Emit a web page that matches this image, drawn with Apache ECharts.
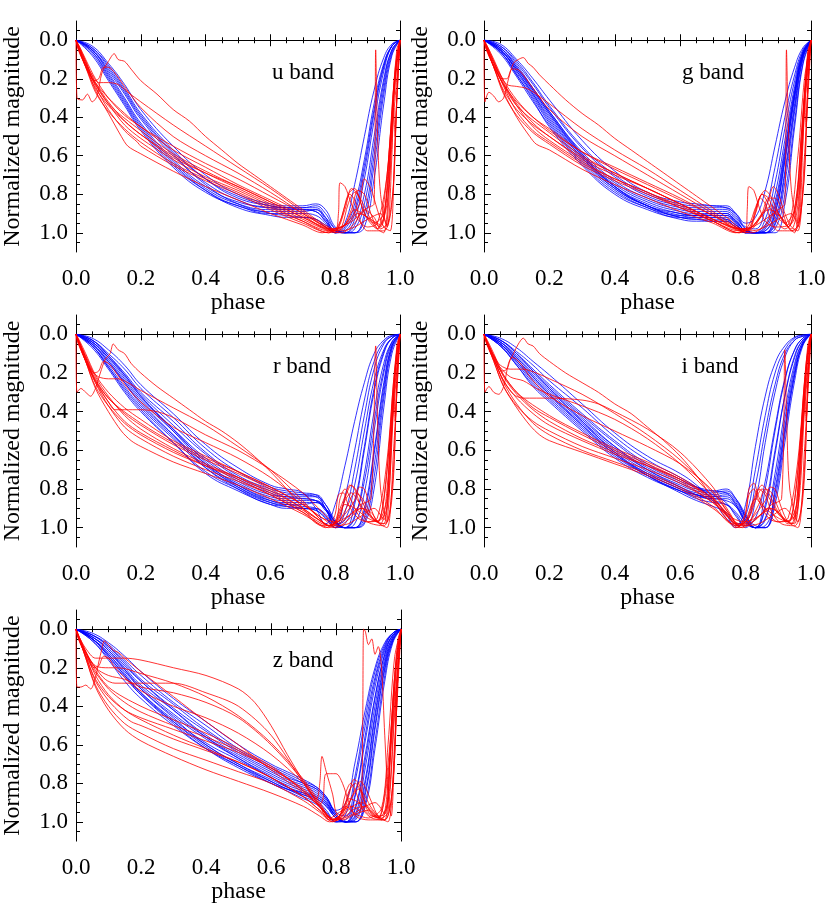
<!DOCTYPE html>
<html>
<head>
  <meta charset="utf-8" />
  <title>Normalized light curves</title>
  <script src="https://cdn.jsdelivr.net/npm/echarts@6/dist/echarts.min.js"></script>
  <style>
    html, body { margin: 0; padding: 0; background: #fff; }
    #main { width: 830px; height: 905px; }
  </style>
</head>
<body>
<div id="main"></div>
<script>
  // phase samples shared by the blue curves
  const phaseGrid = [0,.05,.1,.15,.2,.3,.4,.5,.6,.65,.7,.74,.77,.8,.83,.86,.89,.92,.95,.975,1]

  const xTicks = [0, .2, .4, .6, .8, 1]
  const yMajorTicks = [0, .2, .4, .6, .8, 1]
  const yMinorTicks = [-.05,.05,.1,.15,.25,.3,.35,.45,.5,.55,.65,.7,.75,.85,.9,.95,1.05]

  // ---- u band
  const uBlue = [
    [0,.03,.12,.23,.36,.55,.70,.80,.85,.86,.86,.85,.88,.97,1,.93,.72,.42,.16,.03,0],
    [0,.04,.14,.26,.39,.58,.72,.81,.86,.87,.87,.86,.9,.98,1,.96,.8,.5,.2,.05,0],
    [0,.05,.16,.28,.41,.60,.74,.83,.87,.87,.87,.87,.92,1,.95,.75,.5,.26,.09,.02,0],
    [0,.05,.17,.30,.43,.62,.76,.84,.87,.88,.88,.88,.93,.99,1,1,.9,.6,.25,.06,0],
    [0,.06,.18,.31,.44,.63,.77,.85,.88,.88,.88,.89,.94,.99,1,1,.97,.72,.33,.08,0],
    [0,.07,.20,.33,.46,.65,.78,.86,.89,.89,.89,.88,.92,.98,1,.98,.85,.55,.22,.05,0],
    [0,.08,.21,.34,.47,.66,.79,.86,.90,.90,.90,.91,.95,1,.97,.85,.62,.33,.12,.03,0],
    [0,.04,.13,.25,.38,.57,.72,.82,.86,.87,.88,.89,.94,1,.99,.9,.68,.38,.14,.03,0],
    [0,.06,.19,.32,.45,.64,.78,.87,.91,.92,.92,.93,.96,.99,1,1,.93,.65,.28,.07,0],
    [0,.05,.15,.27,.40,.59,.75,.85,.90,.91,.92,.93,.97,1,.98,.88,.65,.36,.13,.03,0]
  ]
  const uRed = [
    [[0,0],[.003,.3],[.02,.31],[.035,.28],[.05,.32],[.065,.29],[.08,.17],[.1,.11],[.118,.07],[.13,.1],[.15,.11],[.17,.15],[.2,.21],[.25,.28],[.3,.36],[.35,.42],[.4,.5],[.45,.57],[.5,.64],[.55,.7],[.6,.76],[.65,.82],[.7,.88],[.75,.94],[.8,.98],[.83,.96],[.86,.88],[.9,.92],[.94,.96],[.97,.5],[.99,.08],[1,0]],
    [[0,0],[.01,.04],[.03,.12],[.05,.18],[.07,.22],[.1,.22],[.13,.23],[.16,.27],[.2,.32],[.3,.44],[.4,.55],[.5,.66],[.6,.77],[.7,.89],[.77,.97],[.8,1],[.82,.97],[.84,.85],[.86,.79],[.88,.83],[.91,.93],[.94,.97],[.96,.8],[.98,.3],[1,0]],
    [[0,0],[.015,.05],[.035,.13],[.055,.21],[.07,.2],[.085,.14],[.1,.14],[.12,.17],[.15,.24],[.2,.35],[.3,.5],[.4,.6],[.5,.69],[.6,.79],[.7,.9],[.77,.97],[.8,.99],[.82,.92],[.84,.8],[.86,.77],[.88,.85],[.9,.93],[.93,.98],[.96,.85],[.98,.4],[1,0]],
    [[0,0],[.01,.05],[.03,.13],[.06,.22],[.1,.3],[.15,.38],[.2,.45],[.3,.55],[.4,.64],[.5,.72],[.6,.81],[.7,.9],[.76,.96],[.8,.99],[.81,.9],[.815,.74],[.83,.76],[.85,.85],[.87,.93],[.9,.97],[.93,.95],[.96,.7],[.98,.25],[1,0]],
    [[0,0],[.01,.05],[.03,.14],[.06,.25],[.1,.34],[.15,.42],[.2,.49],[.3,.61],[.4,.69],[.5,.76],[.6,.84],[.7,.92],[.77,.98],[.8,.99],[.83,.88],[.85,.77],[.87,.8],[.89,.9],[.92,.95],[.95,.9],[.97,.55],[.99,.1],[1,0]],
    [[0,0],[.01,.05],[.03,.14],[.06,.27],[.1,.37],[.15,.46],[.2,.53],[.3,.64],[.4,.72],[.5,.79],[.6,.87],[.7,.94],[.78,.99],[.82,.98],[.85,.88],[.87,.78],[.89,.8],[.91,.9],[.93,.98],[.95,1],[.97,.6],[.99,.1],[1,0]],
    [[0,0],[.01,.05],[.03,.13],[.06,.26],[.1,.38],[.14,.5],[.16,.55],[.2,.59],[.3,.68],[.4,.76],[.5,.83],[.6,.9],[.7,.96],[.76,1],[.8,.98],[.84,.95],[.87,.9],[.9,.92],[.93,.98],[.96,.7],[.985,.15],[1,0]],
    [[0,0],[.01,.04],[.03,.12],[.06,.24],[.1,.36],[.15,.47],[.19,.53],[.2,.55],[.3,.65],[.4,.73],[.5,.8],[.6,.88],[.7,.95],[.78,1],[.82,.97],[.85,.92],[.875,.85],[.89,.72],[.91,.77],[.93,.88],[.95,.97],[.97,.99],[.985,.5],[1,0]],
    [[0,0],[.01,.04],[.03,.11],[.06,.22],[.1,.32],[.15,.42],[.2,.49],[.3,.6],[.4,.69],[.5,.77],[.6,.85],[.7,.93],[.78,.99],[.82,1],[.86,.95],[.89,.88],[.92,.92],[.94,.98],[.96,.95],[.975,.4],[.99,.05],[1,0]],
    [[0,0],[.01,.03],[.03,.1],[.06,.2],[.1,.3],[.15,.39],[.2,.45],[.3,.57],[.4,.66],[.5,.75],[.6,.83],[.7,.91],[.78,.98],[.82,.97],[.86,.93],[.9,.87],[.92,.85],[.925,.05],[.93,.45],[.94,.8],[.96,.96],[.98,.75],[.99,.3],[1,0]],
    [[0,0],[.005,.04],[.02,.1],[.05,.2],[.1,.33],[.15,.44],[.2,.51],[.3,.62],[.4,.71],[.5,.78],[.6,.86],[.7,.94],[.78,1],[.81,.96],[.83,.86],[.845,.8],[.86,.83],[.88,.95],[.9,.99],[.95,.99],[.975,.85],[.99,.3],[1,0]],
    [[0,0],[.01,.06],[.04,.17],[.1,.33],[.2,.47],[.3,.59],[.4,.68],[.5,.76],[.6,.84],[.7,.92],[.78,.98],[.82,.99],[.86,.97],[.9,.93],[.94,.9],[.96,.97],[.975,.6],[.98,.35],[.985,.5],[.99,.3],[.995,.1],[1,0]]
  ]

  // ---- g band
  const gBlue = [
    [0,.02,.10,.20,.31,.52,.68,.79,.84,.85,.86,.87,.9,.95,.92,.78,.55,.32,.14,.04,0],
    [0,.03,.11,.22,.34,.55,.7,.8,.85,.86,.86,.86,.9,.97,.98,.88,.66,.4,.18,.05,0],
    [0,.03,.12,.23,.35,.56,.71,.81,.86,.87,.87,.87,.91,.98,1,.93,.74,.46,.21,.06,0],
    [0,.04,.13,.25,.37,.58,.73,.82,.87,.88,.88,.88,.92,.98,1,.96,.8,.52,.24,.06,0],
    [0,.04,.14,.26,.38,.59,.74,.83,.88,.89,.89,.89,.93,.99,1,.98,.86,.58,.27,.07,0],
    [0,.05,.15,.27,.39,.6,.75,.84,.89,.9,.9,.9,.94,.99,1,1,.9,.63,.3,.08,0],
    [0,.05,.16,.28,.41,.61,.76,.85,.9,.91,.9,.9,.94,.99,1,1,.93,.68,.33,.09,0],
    [0,.06,.17,.29,.42,.62,.77,.86,.91,.91,.91,.91,.95,1,1,1,.96,.74,.37,.1,0],
    [0,.06,.18,.3,.43,.63,.78,.87,.92,.92,.92,.92,.95,1,1,1,.98,.8,.42,.12,0],
    [0,.07,.19,.32,.44,.64,.79,.87,.92,.93,.93,.93,.96,.99,1,1,1,.85,.45,.13,0],
    [0,.05,.15,.26,.38,.6,.76,.86,.91,.92,.92,.93,.96,1,1,.97,.84,.56,.26,.07,0],
    [0,.04,.14,.25,.37,.59,.76,.86,.92,.93,.94,.94,.97,1,1,.99,.9,.62,.29,.08,0],
    [0,.06,.18,.31,.45,.65,.8,.88,.93,.94,.94,.94,.97,1,1,1,.95,.7,.35,.09,0],
    [0,.05,.16,.28,.4,.61,.77,.86,.9,.91,.91,.91,.94,.99,1,.99,.88,.6,.28,.07,0]
  ]
  const gRed = [
    [[0,0],[.003,.32],[.015,.27],[.03,.29],[.045,.32],[.06,.3],[.075,.2],[.09,.12],[.105,.1],[.12,.09],[.135,.12],[.15,.14],[.17,.18],[.2,.23],[.25,.31],[.3,.38],[.35,.44],[.4,.51],[.45,.57],[.5,.63],[.55,.69],[.6,.75],[.65,.81],[.7,.87],[.75,.93],[.79,.98],[.82,.97],[.85,.9],[.88,.86],[.9,.9],[.93,.97],[.96,.8],[.98,.3],[1,0]],
    [[0,0],[.01,.04],[.03,.12],[.05,.18],[.07,.23],[.1,.24],[.13,.25],[.16,.28],[.2,.33],[.3,.46],[.4,.57],[.5,.67],[.6,.78],[.7,.89],[.77,.97],[.8,1],[.82,.96],[.84,.83],[.86,.78],[.88,.82],[.91,.93],[.94,.98],[.96,.85],[.98,.35],[1,0]],
    [[0,0],[.015,.05],[.035,.13],[.055,.2],[.07,.2],[.085,.15],[.1,.15],[.12,.18],[.15,.25],[.2,.36],[.3,.5],[.4,.6],[.5,.7],[.6,.8],[.7,.9],[.78,.98],[.81,.98],[.83,.88],[.85,.8],[.87,.85],[.89,.93],[.92,.98],[.95,.92],[.97,.5],[.99,.08],[1,0]],
    [[0,0],[.01,.05],[.03,.13],[.06,.23],[.1,.32],[.15,.4],[.2,.47],[.3,.58],[.4,.66],[.5,.74],[.6,.82],[.7,.91],[.77,.97],[.8,.99],[.805,.88],[.81,.76],[.825,.78],[.84,.86],[.86,.94],[.89,.97],[.93,.96],[.96,.6],[.98,.2],[1,0]],
    [[0,0],[.01,.05],[.03,.14],[.06,.26],[.1,.36],[.15,.44],[.2,.5],[.3,.62],[.4,.7],[.5,.77],[.6,.85],[.7,.93],[.77,.98],[.8,.99],[.83,.9],[.85,.8],[.87,.82],[.89,.9],[.92,.95],[.95,.88],[.97,.5],[.99,.08],[1,0]],
    [[0,0],[.01,.05],[.03,.14],[.06,.28],[.1,.39],[.15,.48],[.2,.54],[.3,.65],[.4,.73],[.5,.8],[.6,.87],[.7,.94],[.78,.99],[.82,.98],[.85,.9],[.87,.82],[.89,.82],[.91,.88],[.93,.97],[.95,1],[.97,.65],[.99,.12],[1,0]],
    [[0,0],[.01,.05],[.03,.14],[.06,.27],[.1,.4],[.14,.5],[.16,.54],[.2,.57],[.3,.67],[.4,.75],[.5,.82],[.6,.89],[.7,.95],[.77,1],[.81,.98],[.84,.93],[.87,.88],[.9,.9],[.93,.97],[.96,.75],[.985,.2],[1,0]],
    [[0,0],[.01,.04],[.03,.12],[.06,.24],[.1,.37],[.15,.47],[.2,.53],[.3,.64],[.4,.72],[.5,.79],[.6,.87],[.7,.94],[.78,1],[.82,.97],[.85,.91],[.87,.83],[.885,.76],[.9,.8],[.92,.9],[.94,.97],[.96,.99],[.98,.6],[1,0]],
    [[0,0],[.01,.04],[.03,.11],[.06,.22],[.1,.33],[.15,.43],[.2,.5],[.3,.61],[.4,.69],[.5,.77],[.6,.85],[.7,.93],[.78,.99],[.82,1],[.86,.96],[.89,.9],[.92,.94],[.94,.99],[.96,.96],[.975,.45],[.99,.06],[1,0]],
    [[0,0],[.01,.03],[.03,.1],[.06,.21],[.1,.31],[.15,.4],[.2,.46],[.3,.58],[.4,.67],[.5,.75],[.6,.83],[.7,.91],[.78,.98],[.82,.97],[.86,.93],[.9,.88],[.92,.85],[.925,.05],[.93,.4],[.94,.78],[.96,.95],[.98,.7],[.99,.25],[1,0]],
    [[0,0],[.005,.04],[.02,.1],[.05,.2],[.1,.34],[.15,.45],[.2,.52],[.3,.63],[.4,.72],[.5,.79],[.6,.86],[.7,.94],[.78,1],[.81,.96],[.83,.87],[.845,.82],[.86,.85],[.88,.95],[.9,.99],[.95,.99],[.975,.8],[.99,.25],[1,0]],
    [[0,0],[.01,.06],[.04,.17],[.1,.34],[.2,.48],[.3,.6],[.4,.69],[.5,.77],[.6,.85],[.7,.93],[.78,.98],[.82,.99],[.86,.97],[.9,.93],[.94,.9],[.96,.97],[.975,.55],[.98,.3],[.985,.45],[.99,.25],[.995,.08],[1,0]]
  ]

  // ---- r band
  const rBlue = [
    [0,.02,.08,.16,.26,.41,.57,.69,.78,.8,.82,.9,.98,.88,.68,.45,.25,.1,.03,.005,0],
    [0,.03,.1,.18,.28,.43,.59,.71,.79,.81,.82,.83,.9,1,.84,.6,.34,.14,.04,.01,0],
    [0,.03,.11,.2,.3,.45,.61,.73,.8,.82,.83,.84,.9,.98,.96,.78,.5,.24,.08,.02,0],
    [0,.04,.12,.21,.31,.47,.62,.74,.81,.83,.83,.83,.88,.97,1,.88,.6,.3,.1,.02,0],
    [0,.04,.13,.23,.33,.49,.64,.75,.82,.84,.84,.84,.88,.96,1,.95,.72,.4,.15,.04,0],
    [0,.05,.14,.24,.34,.5,.65,.76,.83,.84,.85,.86,.9,.97,1,.98,.82,.5,.2,.05,0],
    [0,.05,.15,.25,.36,.52,.67,.77,.84,.85,.85,.86,.91,.97,1,1,.9,.6,.25,.06,0],
    [0,.06,.16,.27,.37,.53,.68,.78,.85,.86,.86,.86,.9,.97,1,1,.95,.68,.3,.07,0],
    [0,.06,.17,.28,.38,.54,.69,.79,.86,.87,.87,.87,.9,.97,1,1,.97,.74,.33,.08,0],
    [0,.07,.18,.3,.4,.56,.71,.8,.87,.88,.88,.87,.91,.98,1,1,.98,.8,.38,.1,0],
    [0,.04,.12,.22,.32,.49,.66,.78,.86,.88,.89,.9,.94,1,.92,.7,.42,.18,.05,.01,0],
    [0,.05,.14,.25,.35,.52,.69,.8,.88,.89,.9,.91,.95,1,.98,.86,.58,.28,.09,.02,0],
    [0,.03,.11,.21,.32,.5,.67,.79,.87,.89,.9,.91,.95,.99,1,.94,.76,.45,.18,.04,0],
    [0,.06,.17,.29,.39,.56,.72,.81,.88,.9,.9,.9,.93,.98,1,1,.92,.62,.27,.06,0]
  ]
  const rRed = [
    [[0,0],[.003,.3],[.015,.28],[.03,.3],[.045,.32],[.06,.28],[.075,.2],[.09,.13],[.105,.1],[.115,.05],[.13,.08],[.15,.1],[.17,.15],[.2,.2],[.25,.27],[.3,.33],[.35,.39],[.4,.45],[.45,.5],[.5,.56],[.55,.63],[.6,.71],[.65,.8],[.7,.9],[.74,.97],[.77,1],[.8,.97],[.83,.88],[.86,.9],[.9,.95],[.93,.97],[.96,.7],[.98,.25],[1,0]],
    [[0,0],[.01,.04],[.03,.12],[.05,.19],[.07,.22],[.1,.23],[.13,.23],[.16,.25],[.2,.29],[.3,.38],[.4,.47],[.5,.58],[.6,.7],[.7,.86],[.75,.95],[.78,.99],[.81,.96],[.83,.85],[.85,.78],[.87,.82],[.9,.92],[.93,.97],[.96,.85],[.98,.35],[1,0]],
    [[0,0],[.015,.06],[.035,.14],[.055,.2],[.07,.19],[.085,.14],[.1,.15],[.12,.19],[.15,.26],[.2,.35],[.3,.48],[.4,.56],[.5,.64],[.6,.74],[.7,.87],[.75,.95],[.78,.99],[.81,.95],[.83,.86],[.85,.82],[.87,.86],[.9,.93],[.93,.97],[.96,.9],[.98,.4],[1,0]],
    [[0,0],[.01,.05],[.03,.14],[.06,.25],[.1,.35],[.12,.39],[.15,.39],[.2,.39],[.25,.4],[.3,.43],[.4,.52],[.5,.6],[.6,.7],[.7,.82],[.76,.92],[.8,.98],[.815,.85],[.83,.8],[.85,.86],[.87,.93],[.9,.97],[.94,.95],[.97,.5],[.99,.08],[1,0]],
    [[0,0],[.01,.05],[.03,.13],[.06,.24],[.1,.33],[.15,.41],[.2,.47],[.3,.57],[.4,.65],[.5,.72],[.6,.8],[.7,.9],[.75,.96],[.78,.99],[.8,.93],[.81,.83],[.825,.82],[.84,.88],[.87,.95],[.9,.97],[.93,.95],[.96,.65],[.985,.15],[1,0]],
    [[0,0],[.01,.05],[.03,.14],[.06,.27],[.1,.37],[.15,.46],[.2,.52],[.3,.61],[.4,.68],[.5,.74],[.6,.81],[.7,.9],[.75,.96],[.78,.99],[.81,.97],[.84,.88],[.86,.82],[.88,.84],[.9,.9],[.92,.96],[.95,.98],[.97,.6],[.99,.1],[1,0]],
    [[0,0],[.01,.05],[.03,.14],[.06,.28],[.1,.4],[.14,.5],[.17,.55],[.2,.58],[.3,.66],[.4,.72],[.5,.78],[.6,.85],[.7,.93],[.75,.98],[.78,1],[.82,.97],[.85,.93],[.88,.9],[.91,.94],[.94,.98],[.96,.8],[.985,.2],[1,0]],
    [[0,0],[.01,.04],[.03,.12],[.06,.25],[.1,.37],[.15,.48],[.2,.54],[.3,.63],[.4,.7],[.5,.76],[.6,.83],[.7,.92],[.76,.99],[.8,.98],[.83,.93],[.86,.86],[.875,.79],[.89,.8],[.91,.9],[.93,.97],[.96,1],[.98,.6],[1,0]],
    [[0,0],[.01,.04],[.03,.11],[.06,.22],[.1,.32],[.15,.42],[.2,.49],[.3,.59],[.4,.67],[.5,.74],[.6,.82],[.7,.91],[.76,.97],[.8,1],[.84,.96],[.88,.9],[.91,.92],[.94,.98],[.96,.97],[.975,.5],[.99,.06],[1,0]],
    [[0,0],[.01,.03],[.03,.1],[.06,.21],[.1,.3],[.15,.38],[.2,.44],[.3,.55],[.4,.63],[.5,.71],[.6,.79],[.7,.88],[.76,.95],[.8,.97],[.84,.94],[.88,.88],[.91,.85],[.925,.06],[.93,.4],[.94,.8],[.96,.97],[.98,.7],[.99,.25],[1,0]],
    [[0,0],[.005,.04],[.02,.1],[.05,.21],[.1,.35],[.15,.45],[.2,.51],[.3,.6],[.4,.68],[.5,.75],[.6,.83],[.7,.92],[.76,.98],[.79,.99],[.81,.92],[.83,.84],[.845,.78],[.86,.8],[.88,.9],[.9,.97],[.95,.99],[.975,.85],[.99,.3],[1,0]],
    [[0,0],[.01,.06],[.04,.17],[.1,.33],[.2,.46],[.3,.56],[.4,.64],[.5,.71],[.6,.79],[.7,.88],[.76,.95],[.8,.99],[.84,.98],[.88,.94],[.92,.9],[.95,.96],[.97,.55],[.98,.3],[.985,.45],[.99,.25],[.995,.08],[1,0]]
  ]

  // ---- i band
  const iBlue = [
    [0,.02,.07,.14,.21,.36,.51,.63,.72,.78,.86,.95,.99,.88,.58,.32,.15,.06,.015,.003,0],
    [0,.03,.09,.16,.24,.38,.53,.65,.74,.79,.85,.93,1,.94,.7,.42,.2,.08,.02,.005,0],
    [0,.03,.1,.18,.26,.41,.55,.67,.75,.79,.83,.87,.94,1,.86,.56,.3,.12,.03,.01,0],
    [0,.04,.11,.19,.27,.42,.56,.68,.76,.79,.81,.82,.88,.97,1,.8,.5,.24,.08,.02,0],
    [0,.04,.12,.21,.29,.44,.58,.69,.77,.8,.81,.8,.85,.94,1,.9,.62,.32,.11,.03,0],
    [0,.05,.13,.22,.3,.45,.59,.7,.78,.81,.82,.81,.85,.93,1,.96,.72,.4,.15,.04,0],
    [0,.05,.14,.23,.31,.46,.6,.71,.79,.82,.83,.82,.86,.94,.99,1,.8,.48,.19,.05,0],
    [0,.06,.15,.25,.33,.48,.62,.72,.8,.83,.84,.83,.87,.95,1,1,.85,.52,.21,.05,0],
    [0,.06,.16,.26,.34,.49,.63,.73,.81,.83,.84,.84,.88,.96,1,1,.88,.56,.24,.06,0],
    [0,.04,.12,.2,.28,.43,.58,.7,.79,.83,.86,.88,.93,.99,.95,.76,.48,.23,.08,.02,0],
    [0,.05,.13,.22,.31,.47,.62,.73,.81,.85,.87,.88,.92,.98,1,.88,.6,.32,.12,.03,0],
    [0,.03,.1,.19,.28,.45,.61,.73,.82,.86,.89,.92,.98,.97,.78,.5,.26,.1,.03,.01,0],
    [0,.06,.16,.27,.35,.5,.64,.74,.81,.84,.85,.86,.89,.96,1,.99,.82,.5,.21,.05,0],
    [0,.05,.14,.24,.32,.47,.61,.72,.8,.83,.85,.85,.89,.97,1,.95,.76,.44,.17,.04,0]
  ]
  const iRed = [
    [[0,0],[.003,.3],[.015,.27],[.03,.3],[.045,.31],[.06,.27],[.075,.15],[.09,.1],[.105,.05],[.12,.02],[.135,.05],[.15,.06],[.17,.1],[.2,.14],[.25,.2],[.3,.25],[.35,.3],[.4,.36],[.45,.41],[.5,.48],[.55,.55],[.6,.63],[.65,.73],[.7,.85],[.74,.95],[.77,1],[.8,.96],[.83,.85],[.86,.9],[.9,.95],[.93,.97],[.96,.7],[.98,.25],[1,0]],
    [[0,0],[.01,.04],[.03,.11],[.05,.16],[.08,.18],[.12,.18],[.16,.2],[.2,.23],[.3,.31],[.4,.41],[.5,.52],[.6,.65],[.7,.82],[.75,.93],[.78,.99],[.81,.95],[.83,.84],[.85,.78],[.87,.82],[.9,.92],[.93,.97],[.96,.85],[.98,.35],[1,0]],
    [[0,0],[.01,.05],[.03,.13],[.06,.24],[.09,.31],[.12,.33],[.2,.33],[.3,.34],[.35,.36],[.4,.4],[.5,.49],[.6,.61],[.7,.79],[.75,.92],[.78,.99],[.8,.92],[.81,.8],[.825,.77],[.84,.84],[.87,.93],[.9,.97],[.94,.95],[.97,.5],[.99,.08],[1,0]],
    [[0,0],[.015,.06],[.035,.13],[.055,.19],[.07,.18],[.085,.12],[.1,.13],[.12,.17],[.15,.24],[.2,.32],[.3,.42],[.4,.5],[.5,.58],[.6,.67],[.7,.81],[.75,.93],[.78,.99],[.81,.95],[.83,.86],[.85,.8],[.87,.84],[.9,.93],[.93,.97],[.96,.9],[.98,.4],[1,0]],
    [[0,0],[.01,.05],[.03,.13],[.06,.24],[.1,.33],[.15,.41],[.2,.47],[.3,.55],[.4,.62],[.5,.68],[.6,.75],[.7,.86],[.75,.95],[.78,.99],[.8,.93],[.81,.83],[.825,.8],[.84,.86],[.87,.95],[.9,.97],[.93,.95],[.96,.65],[.985,.15],[1,0]],
    [[0,0],[.01,.05],[.03,.14],[.06,.27],[.1,.38],[.14,.47],[.17,.52],[.2,.55],[.3,.61],[.4,.67],[.5,.73],[.6,.8],[.7,.9],[.75,.97],[.78,1],[.82,.97],[.85,.93],[.88,.9],[.91,.94],[.94,.98],[.96,.8],[.985,.2],[1,0]],
    [[0,0],[.01,.05],[.03,.14],[.06,.27],[.1,.37],[.15,.45],[.2,.5],[.3,.58],[.4,.64],[.5,.7],[.6,.77],[.7,.87],[.75,.95],[.78,.99],[.81,.97],[.84,.88],[.86,.8],[.88,.82],[.9,.9],[.92,.96],[.95,.98],[.97,.6],[.99,.1],[1,0]],
    [[0,0],[.01,.04],[.03,.12],[.06,.25],[.1,.36],[.15,.46],[.2,.52],[.3,.6],[.4,.66],[.5,.72],[.6,.79],[.7,.89],[.76,.98],[.8,.98],[.83,.93],[.86,.86],[.875,.79],[.89,.8],[.91,.9],[.93,.97],[.96,1],[.98,.6],[1,0]],
    [[0,0],[.01,.04],[.03,.11],[.06,.22],[.1,.31],[.15,.39],[.2,.45],[.3,.54],[.4,.61],[.5,.68],[.6,.76],[.7,.87],[.76,.97],[.79,1],[.83,.96],[.87,.9],[.9,.92],[.93,.98],[.95,.97],[.97,.5],[.99,.06],[1,0]],
    [[0,0],[.01,.03],[.03,.1],[.06,.21],[.1,.3],[.15,.38],[.2,.43],[.3,.52],[.4,.6],[.5,.67],[.6,.75],[.7,.85],[.76,.95],[.8,.97],[.84,.94],[.88,.88],[.91,.85],[.92,.08],[.925,.4],[.935,.8],[.96,.97],[.98,.7],[.99,.25],[1,0]],
    [[0,0],[.01,.06],[.04,.16],[.1,.3],[.2,.42],[.3,.51],[.4,.59],[.5,.66],[.6,.74],[.7,.85],[.76,.96],[.8,.99],[.84,.98],[.88,.94],[.92,.9],[.95,.96],[.97,.55],[.98,.3],[.985,.45],[.99,.25],[.995,.08],[1,0]],
    [[0,0],[.01,.05],[.04,.15],[.08,.22],[.12,.24],[.16,.28],[.2,.31],[.3,.37],[.4,.44],[.5,.54],[.6,.67],[.7,.84],[.75,.95],[.77,.99],[.8,.97],[.82,.88],[.84,.8],[.86,.83],[.88,.92],[.91,.98],[.95,.99],[.975,.85],[.99,.3],[1,0]]
  ]

  // ---- z band
  const zBlue = [
    [0,.02,.07,.14,.22,.36,.48,.6,.7,.74,.78,.82,.87,.94,.9,.68,.42,.2,.07,.02,0],
    [0,.03,.08,.16,.24,.38,.5,.62,.71,.75,.79,.82,.87,.95,.97,.78,.5,.25,.09,.02,0],
    [0,.03,.09,.17,.26,.39,.52,.63,.72,.76,.8,.83,.88,.96,1,.86,.58,.3,.11,.03,0],
    [0,.04,.1,.19,.27,.41,.53,.64,.73,.77,.8,.83,.88,.96,1,.92,.65,.35,.13,.03,0],
    [0,.04,.11,.2,.29,.42,.55,.65,.74,.78,.81,.84,.89,.97,1,.96,.72,.4,.15,.04,0],
    [0,.05,.12,.21,.3,.44,.56,.66,.75,.79,.82,.85,.9,.97,1,.99,.8,.46,.18,.05,0],
    [0,.05,.13,.22,.31,.45,.57,.67,.76,.8,.83,.86,.9,.97,1,1,.86,.52,.21,.06,0],
    [0,.05,.14,.24,.33,.47,.59,.68,.77,.81,.84,.87,.91,.98,1,1,.9,.58,.24,.06,0],
    [0,.06,.15,.25,.34,.48,.6,.7,.78,.82,.85,.88,.92,.98,1,1,.92,.62,.27,.07,0],
    [0,.06,.16,.27,.36,.5,.62,.71,.79,.83,.86,.88,.92,.98,1,.98,.84,.5,.2,.05,0],
    [0,.03,.09,.18,.27,.42,.56,.67,.77,.82,.86,.89,.94,1,.96,.75,.46,.22,.08,.02,0],
    [0,.04,.11,.21,.31,.46,.6,.7,.79,.83,.87,.9,.95,1,.99,.85,.55,.27,.1,.02,0],
    [0,.05,.13,.23,.33,.48,.61,.71,.8,.84,.88,.91,.96,1,1,.93,.68,.36,.13,.03,0],
    [0,.05,.14,.24,.34,.49,.62,.72,.8,.83,.85,.87,.91,.97,1,.97,.78,.44,.17,.04,0]
  ]
  const zRed = [
    [[0,0],[.003,.3],[.015,.3],[.03,.29],[.045,.31],[.06,.25],[.07,.17],[.08,.1],[.087,.06],[.1,.08],[.115,.11],[.13,.12],[.15,.15],[.2,.22],[.3,.35],[.4,.48],[.5,.6],[.6,.73],[.7,.85],[.75,.92],[.78,.98],[.8,.99],[.83,.92],[.86,.96],[.9,.98],[.94,.93],[.96,.6],[.98,.15],[1,0]],
    [[0,0],[.01,.04],[.03,.1],[.06,.15],[.1,.15],[.15,.15],[.2,.16],[.3,.2],[.4,.24],[.5,.31],[.55,.38],[.6,.5],[.65,.65],[.7,.79],[.75,.92],[.78,.99],[.81,.97],[.84,.88],[.87,.9],[.9,.96],[.93,.98],[.96,.75],[.98,.25],[1,0]],
    [[0,0],[.01,.05],[.03,.12],[.06,.2],[.09,.26],[.12,.28],[.2,.28],[.3,.28],[.4,.33],[.5,.4],[.6,.55],[.7,.8],[.75,.92],[.79,.99],[.81,.98],[.83,.85],[.845,.8],[.86,.84],[.88,.93],[.91,.98],[.95,.99],[.975,.8],[.99,.25],[1,0]],
    [[0,0],[.01,.05],[.03,.12],[.06,.19],[.1,.2],[.13,.2],[.2,.23],[.3,.28],[.4,.35],[.5,.45],[.6,.59],[.7,.78],[.75,.9],[.79,.99],[.82,.95],[.84,.84],[.86,.8],[.88,.86],[.9,.95],[.93,.98],[.96,.9],[.98,.4],[1,0]],
    [[0,0],[.015,.06],[.035,.13],[.055,.2],[.07,.19],[.085,.14],[.1,.15],[.12,.2],[.15,.25],[.2,.32],[.3,.4],[.4,.46],[.5,.54],[.6,.65],[.7,.8],[.74,.88],[.75,.8],[.757,.66],[.77,.74],[.79,.86],[.8,.95],[.82,.99],[.86,.96],[.9,.94],[.93,.98],[.96,.7],[.985,.15],[1,0]],
    [[0,0],[.01,.05],[.03,.14],[.06,.26],[.1,.35],[.15,.42],[.2,.46],[.3,.52],[.4,.58],[.5,.64],[.6,.72],[.7,.84],[.75,.92],[.79,.99],[.82,.97],[.85,.87],[.87,.83],[.89,.87],[.91,.93],[.94,.98],[.96,.95],[.98,.45],[1,0]],
    [[0,0],[.01,.05],[.03,.14],[.06,.27],[.1,.37],[.14,.44],[.17,.48],[.2,.5],[.3,.57],[.4,.63],[.5,.69],[.6,.77],[.7,.87],[.75,.94],[.79,1],[.82,.97],[.85,.92],[.88,.9],[.91,.94],[.94,.99],[.96,.8],[.985,.2],[1,0]],
    [[0,0],[.01,.05],[.03,.15],[.06,.29],[.1,.4],[.15,.49],[.2,.54],[.3,.62],[.4,.68],[.5,.74],[.6,.8],[.7,.89],[.75,.95],[.78,.99],[.81,.97],[.84,.9],[.86,.83],[.875,.79],[.89,.82],[.91,.9],[.93,.97],[.96,1],[.98,.6],[1,0]],
    [[0,0],[.01,.05],[.03,.15],[.06,.3],[.1,.42],[.15,.52],[.2,.58],[.3,.66],[.4,.73],[.5,.79],[.6,.85],[.7,.92],[.75,.97],[.78,1],[.82,.98],[.86,.93],[.89,.92],[.92,.97],[.95,.99],[.97,.5],[.99,.06],[1,0]],
    [[0,0],[.01,.04],[.03,.12],[.06,.24],[.1,.34],[.15,.42],[.2,.47],[.3,.55],[.4,.62],[.5,.69],[.6,.77],[.7,.87],[.75,.94],[.78,.98],[.82,.94],[.85,.92],[.875,.95],[.882,.5],[.885,0],[.89,.01],[.9,.08],[.91,.05],[.92,.13],[.93,.09],[.94,.2],[.95,.55],[.96,.85],[.97,.97],[.98,.65],[.99,.15],[1,0]],
    [[0,0],[.005,.04],[.02,.1],[.05,.2],[.1,.31],[.15,.38],[.2,.43],[.3,.5],[.4,.56],[.5,.63],[.6,.72],[.7,.83],[.75,.91],[.76,.88],[.77,.75],[.8,.75],[.82,.8],[.84,.9],[.86,.97],[.9,.99],[.95,.99],[.975,.8],[.99,.25],[1,0]],
    [[0,0],[.01,.06],[.04,.16],[.1,.3],[.2,.4],[.3,.47],[.4,.54],[.5,.62],[.6,.71],[.7,.84],[.76,.94],[.8,.99],[.84,.97],[.88,.93],[.92,.9],[.95,.96],[.97,.55],[.98,.3],[.985,.45],[.99,.25],[.995,.08],[1,0]],
    [[0,0],[.01,.05],[.03,.12],[.06,.2],[.1,.24],[.15,.26],[.2,.3],[.3,.33],[.4,.38],[.5,.46],[.6,.6],[.7,.79],[.75,.91],[.79,.99],[.82,.96],[.84,.86],[.855,.78],[.87,.8],[.89,.9],[.92,.97],[.95,.96],[.97,.6],[.99,.1],[1,0]]
  ]

  let blueColor = '#0000ff'
  let redColor = '#ff0000'
  let fontFamily = '"Liberation Serif", "DejaVu Serif", serif'
  let tickFont = 23
  let nameFont = 24

  let panels = [
    {band: 'u band', blue: uBlue, red: uRed, left: 75, top: 21, width: 325, height: 231, lx: 303, ly: 73},
    {band: 'g band', blue: gBlue, red: gRed, left: 484, top: 21, width: 327, height: 231, lx: 713, ly: 73},
    {band: 'r band', blue: rBlue, red: rRed, left: 75, top: 315, width: 325, height: 232, lx: 302, ly: 367},
    {band: 'i band', blue: iBlue, red: iRed, left: 484, top: 315, width: 327, height: 232, lx: 710, ly: 367},
    {band: 'z band', blue: zBlue, red: zRed, left: 75, top: 610, width: 326, height: 232, lx: 303, ly: 661},
  ]

  let grids = [], xAxes = [], yAxes = [], series = [], texts = []
  let lineBlack = {show: true, lineStyle: {color: '#000', width: 1}}

  panels.forEach(function (p, i) {
    grids.push({left: p.left, top: p.top, width: p.width, height: p.height})

    // bottom and top x axes
    xAxes.push({
      gridIndex: i, type: 'value', min: 0, max: 1, interval: 0.2, position: 'bottom',
      axisLine: lineBlack,
      axisTick: {inside: true, length: 6, lineStyle: {color: '#000'}},
      minorTick: {show: true, splitNumber: 4, length: 3, lineStyle: {color: '#000'}},
      axisLabel: {formatter: v => v.toFixed(1), margin: 15,
        fontFamily: fontFamily, fontSize: tickFont, color: '#000'},
      splitLine: {show: false},
      name: 'phase', nameLocation: 'middle', nameGap: 36,
      nameTextStyle: {fontFamily: fontFamily, fontSize: nameFont, color: '#000'}
    })
    xAxes.push({
      gridIndex: i, type: 'value', min: 0, max: 1, interval: 0.2, position: 'top',
      axisLine: lineBlack,
      axisTick: {inside: true, length: 6, lineStyle: {color: '#000'}},
      minorTick: {show: true, splitNumber: 4, length: 3, lineStyle: {color: '#000'}},
      axisLabel: {show: false}, splitLine: {show: false}
    })

    // y axes: major and minor ticks on both sides
    ;['left', 'right'].forEach(function (side) {
      let major = {
        gridIndex: i, type: 'value', inverse: true, min: -0.1, max: 1.1, position: side,
        axisLine: lineBlack,
        axisTick: {inside: true, length: 7, customValues: yMajorTicks, lineStyle: {color: '#000'}},
        axisLabel: {show: side === 'left', customValues: yMajorTicks, formatter: v => v.toFixed(1),
          margin: 8, fontFamily: fontFamily, fontSize: tickFont, color: '#000'},
        splitLine: {show: false}
      }
      if (side === 'left') {
        major.name = 'Normalized magnitude'
        major.nameLocation = 'middle'
        major.nameGap = 51
        major.nameTextStyle = {fontFamily: fontFamily, fontSize: nameFont, color: '#000'}
      }
      yAxes.push(major)
      yAxes.push({
        gridIndex: i, type: 'value', inverse: true, min: -0.1, max: 1.1, position: side,
        axisLine: {show: false},
        axisTick: {inside: true, length: 4, customValues: yMinorTicks, lineStyle: {color: '#000'}},
        axisLabel: {show: false}, splitLine: {show: false}
      })
    })

    p.blue.forEach(function (row) {
      series.push({
        type: 'line', xAxisIndex: 2 * i, yAxisIndex: 4 * i,
        data: row.map((v, k) => [phaseGrid[k], v]),
        smooth: 0.45, symbol: 'none', silent: true, z: 2,
        lineStyle: {color: blueColor, width: 0.8}
      })
    })
    p.red.forEach(function (pts) {
      series.push({
        type: 'line', xAxisIndex: 2 * i, yAxisIndex: 4 * i,
        data: pts,
        smooth: 0.3, symbol: 'none', silent: true, z: 3,
        lineStyle: {color: redColor, width: 0.8}
      })
    })

    texts.push({
      type: 'text', x: p.lx, y: p.ly, z: 10,
      style: {text: p.band, fontFamily: fontFamily, fontSize: tickFont, fill: '#000',
        align: 'center', verticalAlign: 'middle'}
    })
  })

  let chart = echarts.init(document.getElementById('main'))
  chart.setOption({
    animation: false,
    backgroundColor: '#fff',
    grid: grids,
    xAxis: xAxes,
    yAxis: yAxes,
    series: series,
    graphic: texts
  })
</script>
</body>
</html>
